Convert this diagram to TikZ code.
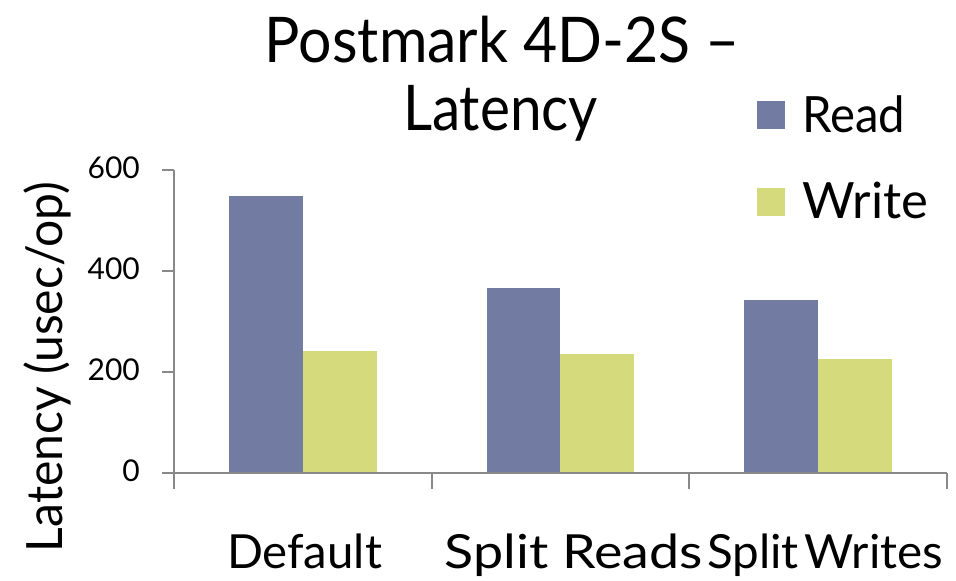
\documentclass[tikz,border=0pt]{standalone}
\usepackage{fontspec}
\usepackage{graphicx}
\setmainfont{Lato}
\definecolor{readbar}{RGB}{114,123,161}
\definecolor{writebar}{RGB}{213,218,124}
\definecolor{axisgray}{RGB}{137,137,137}
% set a label to a given width, keeping its height
\newcommand{\fitwidth}[2]{\resizebox{#1}{\height}{#2}}
\begin{document}
\begin{tikzpicture}[x=1pt,y=-1pt,
  axisline/.style={draw=axisgray,line width=2pt},
  readfill/.style={fill=readbar},
  writefill/.style={fill=writebar},
  ticklabel/.style={anchor=base east,inner sep=0pt,font=\fontsize{30}{30}\selectfont},
  catlabel/.style={anchor=base,inner sep=0pt,font=\fontsize{47}{47}\selectfont},
  legendlabel/.style={anchor=base west,inner sep=0pt,font=\fontsize{50}{50}\selectfont},
  titlefont/.style={anchor=base,inner sep=0pt,font=\fontsize{63}{63}\selectfont}]
\useasboundingbox (0,0) rectangle (956,581);
\fill[white] (0,0) rectangle (956,581);

% title
\node[titlefont] (title1) at (502.5,62) {\fitwidth{475pt}{Postmark 4D-2S –}};
\node[titlefont] (title2) at (500.5,130) {\fitwidth{195pt}{Latency}};

% bars: Read / Write per configuration
\fill[readfill]  (229,473) rectangle (303,196);
\fill[writefill] (303,473) rectangle (377,351);
\fill[readfill]  (487,473) rectangle (560,288);
\fill[writefill] (560,473) rectangle (634,354);
\fill[readfill]  (744,473) rectangle (818,300);
\fill[writefill] (818,473) rectangle (892,359);

% axes
\coordinate (ytop) at (174,170);
\coordinate (ybot) at (174,489);
\coordinate (xl) at (162,473);
\coordinate (xr) at (947,473);
\draw[axisline] (ytop) -- (ybot);
\draw[axisline] (xl) -- (xr);
\foreach \yy in {170,271,372} \draw[axisline] (162,\yy) -- (174,\yy);
\foreach \xx in {432,689,947} \draw[axisline] (\xx,473) -- (\xx,489);

% tick labels
\node[ticklabel] (t600) at (140,178.5) {600};
\node[ticklabel] (t400) at (140,279.5) {400};
\node[ticklabel] (t200) at (140,380.5) {200};
\node[ticklabel] (t0)   at (140,481.5) {0};

% axis title
\node[anchor=base,inner sep=0pt,rotate=90,font=\fontsize{50}{50}\selectfont] (ylab) at (62,367)
  {\fitwidth{370pt}{Latency (usec/op)}};

% category labels
\node[catlabel] (c1) at (304.5,568) {\fitwidth{155pt}{Default}};
\node[catlabel] (c2) at (574,568) {\fitwidth{258pt}{Split Reads}};
\node[catlabel] (c3) at (825,568) {\fitwidth{236pt}{Split\hspace{0.12em}Writes}};

% legend
\fill[readfill]  (757,101) rectangle (785,129);
\fill[writefill] (757,188) rectangle (785,216);
\node[legendlabel] (lr) at (802,132) {\fitwidth{103pt}{Read}};
\node[legendlabel] (lw) at (802,218) {\fitwidth{126pt}{Write}};
\end{tikzpicture}
\end{document}
